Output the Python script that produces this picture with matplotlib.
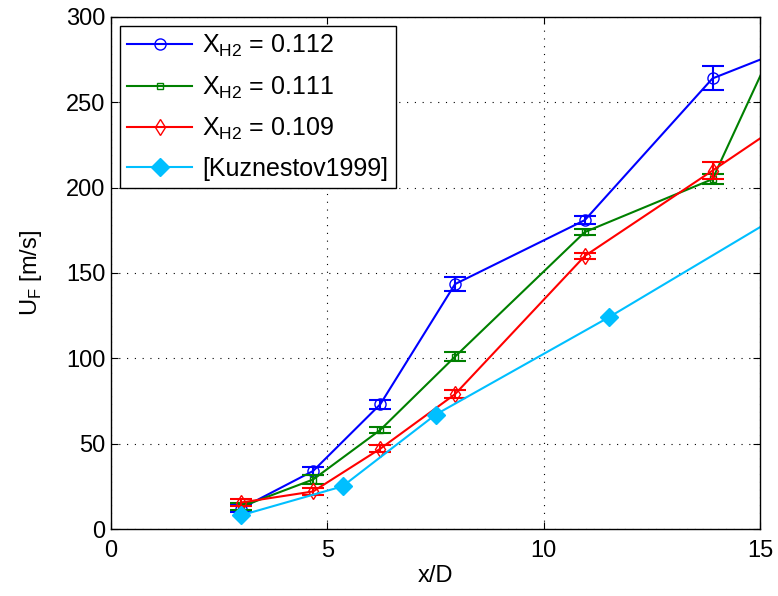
import matplotlib
matplotlib.use("Agg")
import matplotlib.pyplot as plt

plt.rcParams['font.family'] = ['Liberation Sans', 'DejaVu Sans']
plt.rcParams['mathtext.fontset'] = 'custom'
plt.rcParams['mathtext.rm'] = 'Liberation Sans'

# X_H2 = 0.112
x_112 = [3.0, 4.67, 6.22, 7.95, 10.95, 13.9, 16.0]
u_112 = [12, 34, 73, 143.5, 181, 264, 285]
e_112 = [2, 2.5, 2.5, 4, 2.5, 7, 0]

# X_H2 = 0.111
x_111 = [3.0, 4.67, 6.22, 7.95, 10.95, 13.9, 16.0]
u_111 = [13, 29, 58, 101, 174, 205, 320]
e_111 = [2, 2.5, 2, 2.5, 2, 3, 0]

# X_H2 = 0.109
x_109 = [3.0, 4.67, 6.22, 7.95, 10.95, 13.9, 16.0]
u_109 = [15.5, 22, 47, 79, 160, 210, 246]
e_109 = [2, 2, 2, 2.5, 2, 5, 0]

# [Kuznestov1999]
x_kuz = [3.0, 5.35, 7.5, 11.5, 16.0]
u_kuz = [8, 25, 67, 124, 192]

fig = plt.figure(figsize=(7.78, 5.96), dpi=100)
ax = fig.add_axes([0.1427, 0.1124, 0.8343, 0.8591])

lw = 1.5
series = [
    (x_112, u_112, e_112, '#0000ff', 'o', 8, r'X$_{\mathregular{H2}}$ = 0.112'),
    (x_111, u_111, e_111, '#008000', 's', 5, r'X$_{\mathregular{H2}}$ = 0.111'),
    (x_109, u_109, e_109, '#ff0000', 'd', 8, r'X$_{\mathregular{H2}}$ = 0.109'),
]
handles = []
for x, u, e, c, m, ms, lab in series:
    ax.errorbar(x, u, yerr=e, fmt='none', ecolor=c, capsize=8, elinewidth=lw, capthick=lw)
    h, = ax.plot(x, u, color=c, marker=m, mfc='none', ms=ms, lw=lw, label=lab)
    handles.append(h)
h, = ax.plot(x_kuz, u_kuz, color='#00bfff', marker='D', ms=9, lw=lw, label='[Kuznestov1999]')
handles.append(h)

ax.set_xlim(0, 15)
ax.set_ylim(0, 300)
ax.set_xticks([0, 5, 10, 15])
ax.set_yticks([0, 50, 100, 150, 200, 250, 300])
ax.grid(True, color='black', linestyle=(0, (1, 6)), linewidth=0.8)
ax.tick_params(direction='in', top=True, right=True, labelsize=17, length=5)
ax.tick_params(axis='x', pad=8)
ax.tick_params(axis='y', pad=4)
for s in ax.spines.values():
    s.set_linewidth(1.0)

ax.set_xlabel('x/D', fontsize=17, labelpad=2)
ax.set_ylabel(r'U$_{\mathregular{F}}$ [m/s]', fontsize=17, labelpad=16)

leg = ax.legend(handles=handles, loc='upper left', fontsize=18, frameon=True, fancybox=False,
                edgecolor='black', framealpha=1, handlelength=2.6,
                borderaxespad=0.35, labelspacing=0.6, handletextpad=0.4,
                borderpad=0.3)
leg.get_frame().set_linewidth(1.0)

fig.savefig('out.png', dpi=100)
